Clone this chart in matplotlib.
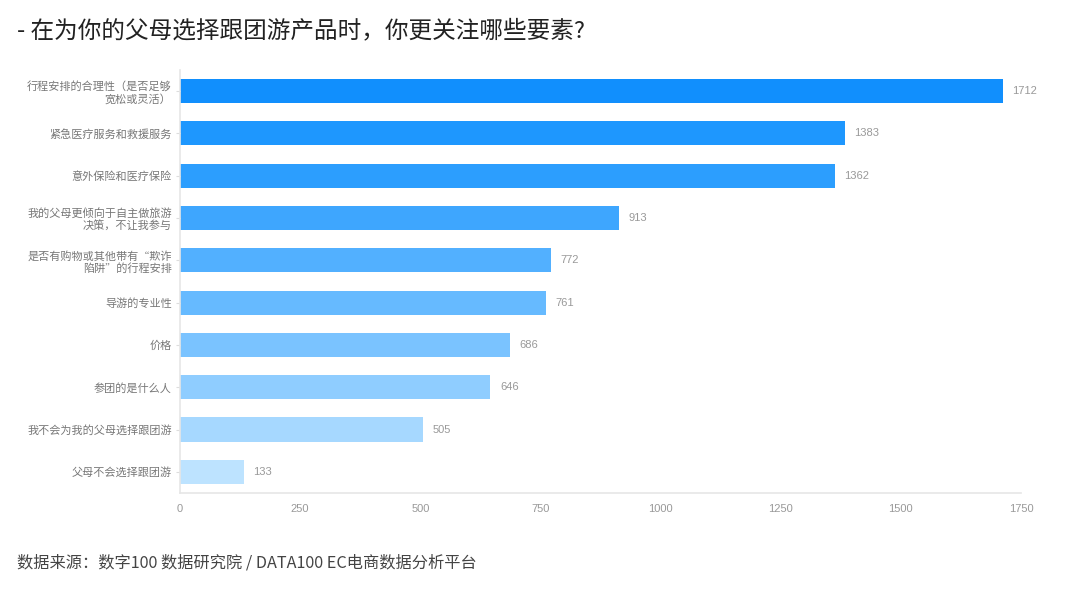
import matplotlib
matplotlib.use("Agg")
import matplotlib.pyplot as plt

plt.rcParams['font.family'] = ['Noto Sans CJK SC', 'DejaVu Sans']

categories = [
    "行程安排的合理性（是否足够\n宽松或灵活）",
    "紧急医疗服务和救援服务",
    "意外保险和医疗保险",
    "我的父母更倾向于自主做旅游\n决策，不让我参与",
    "是否有购物或其他带有“欺诈\n陷阱”的行程安排",
    "导游的专业性",
    "价格",
    "参团的是什么人",
    "我不会为我的父母选择跟团游",
    "父母不会选择跟团游",
]
values = [1712, 1383, 1362, 913, 772, 761, 686, 646, 505, 133]
colors = ["#118ffd", "#1e97fe", "#2c9efe", "#3ea6fe", "#52b0ff",
          "#66baff", "#7ac3ff", "#8fcdff", "#a6d8ff", "#bde3ff"]
xticks = [0, 250, 500, 750, 1000, 1250, 1500, 1750]

num_font = ['Liberation Sans', 'DejaVu Sans']

fig = plt.figure(figsize=(10.8, 5.9), dpi=100)
ax = fig.add_axes([0.1667, 0.1644, 0.7787, 0.717])

y = list(range(len(categories)))
ax.barh(y, values, height=0.57, color=colors)
for yi, v in zip(y, values):
    ax.text(v + 20, yi, str(v), va='center', ha='left', fontsize=8,
            color='#999999', family=num_font)

ax.set_ylim(len(categories) - 0.5, -0.5)
ax.set_xlim(0, 1750)
ax.set_yticks(y)
ax.set_yticklabels(categories, fontsize=8, color='#777777', linespacing=1.2)
ax.set_xticks(xticks)
ax.set_xticklabels([str(t) for t in xticks], fontsize=8, color='#999999',
                   family=num_font)
ax.tick_params(axis='y', length=3, color='#dddddd', pad=3)
ax.tick_params(axis='x', length=0, pad=8)
for s in ['top', 'right']:
    ax.spines[s].set_visible(False)
for s in ['left', 'bottom']:
    ax.spines[s].set_color('#e6e6e6')
    ax.spines[s].set_linewidth(1.2)

fig.text(0.016, 0.948, "- 在为你的父母选择跟团游产品时，你更关注哪些要素?", fontsize=17,
         color='#222222', ha='left', va='center')
fig.text(0.016, 0.046, "数据来源：数字100 数据研究院 / DATA100 EC电商数据分析平台", fontsize=11.7,
         color='#444444', ha='left', va='center')

fig.savefig("out.png", dpi=100)
